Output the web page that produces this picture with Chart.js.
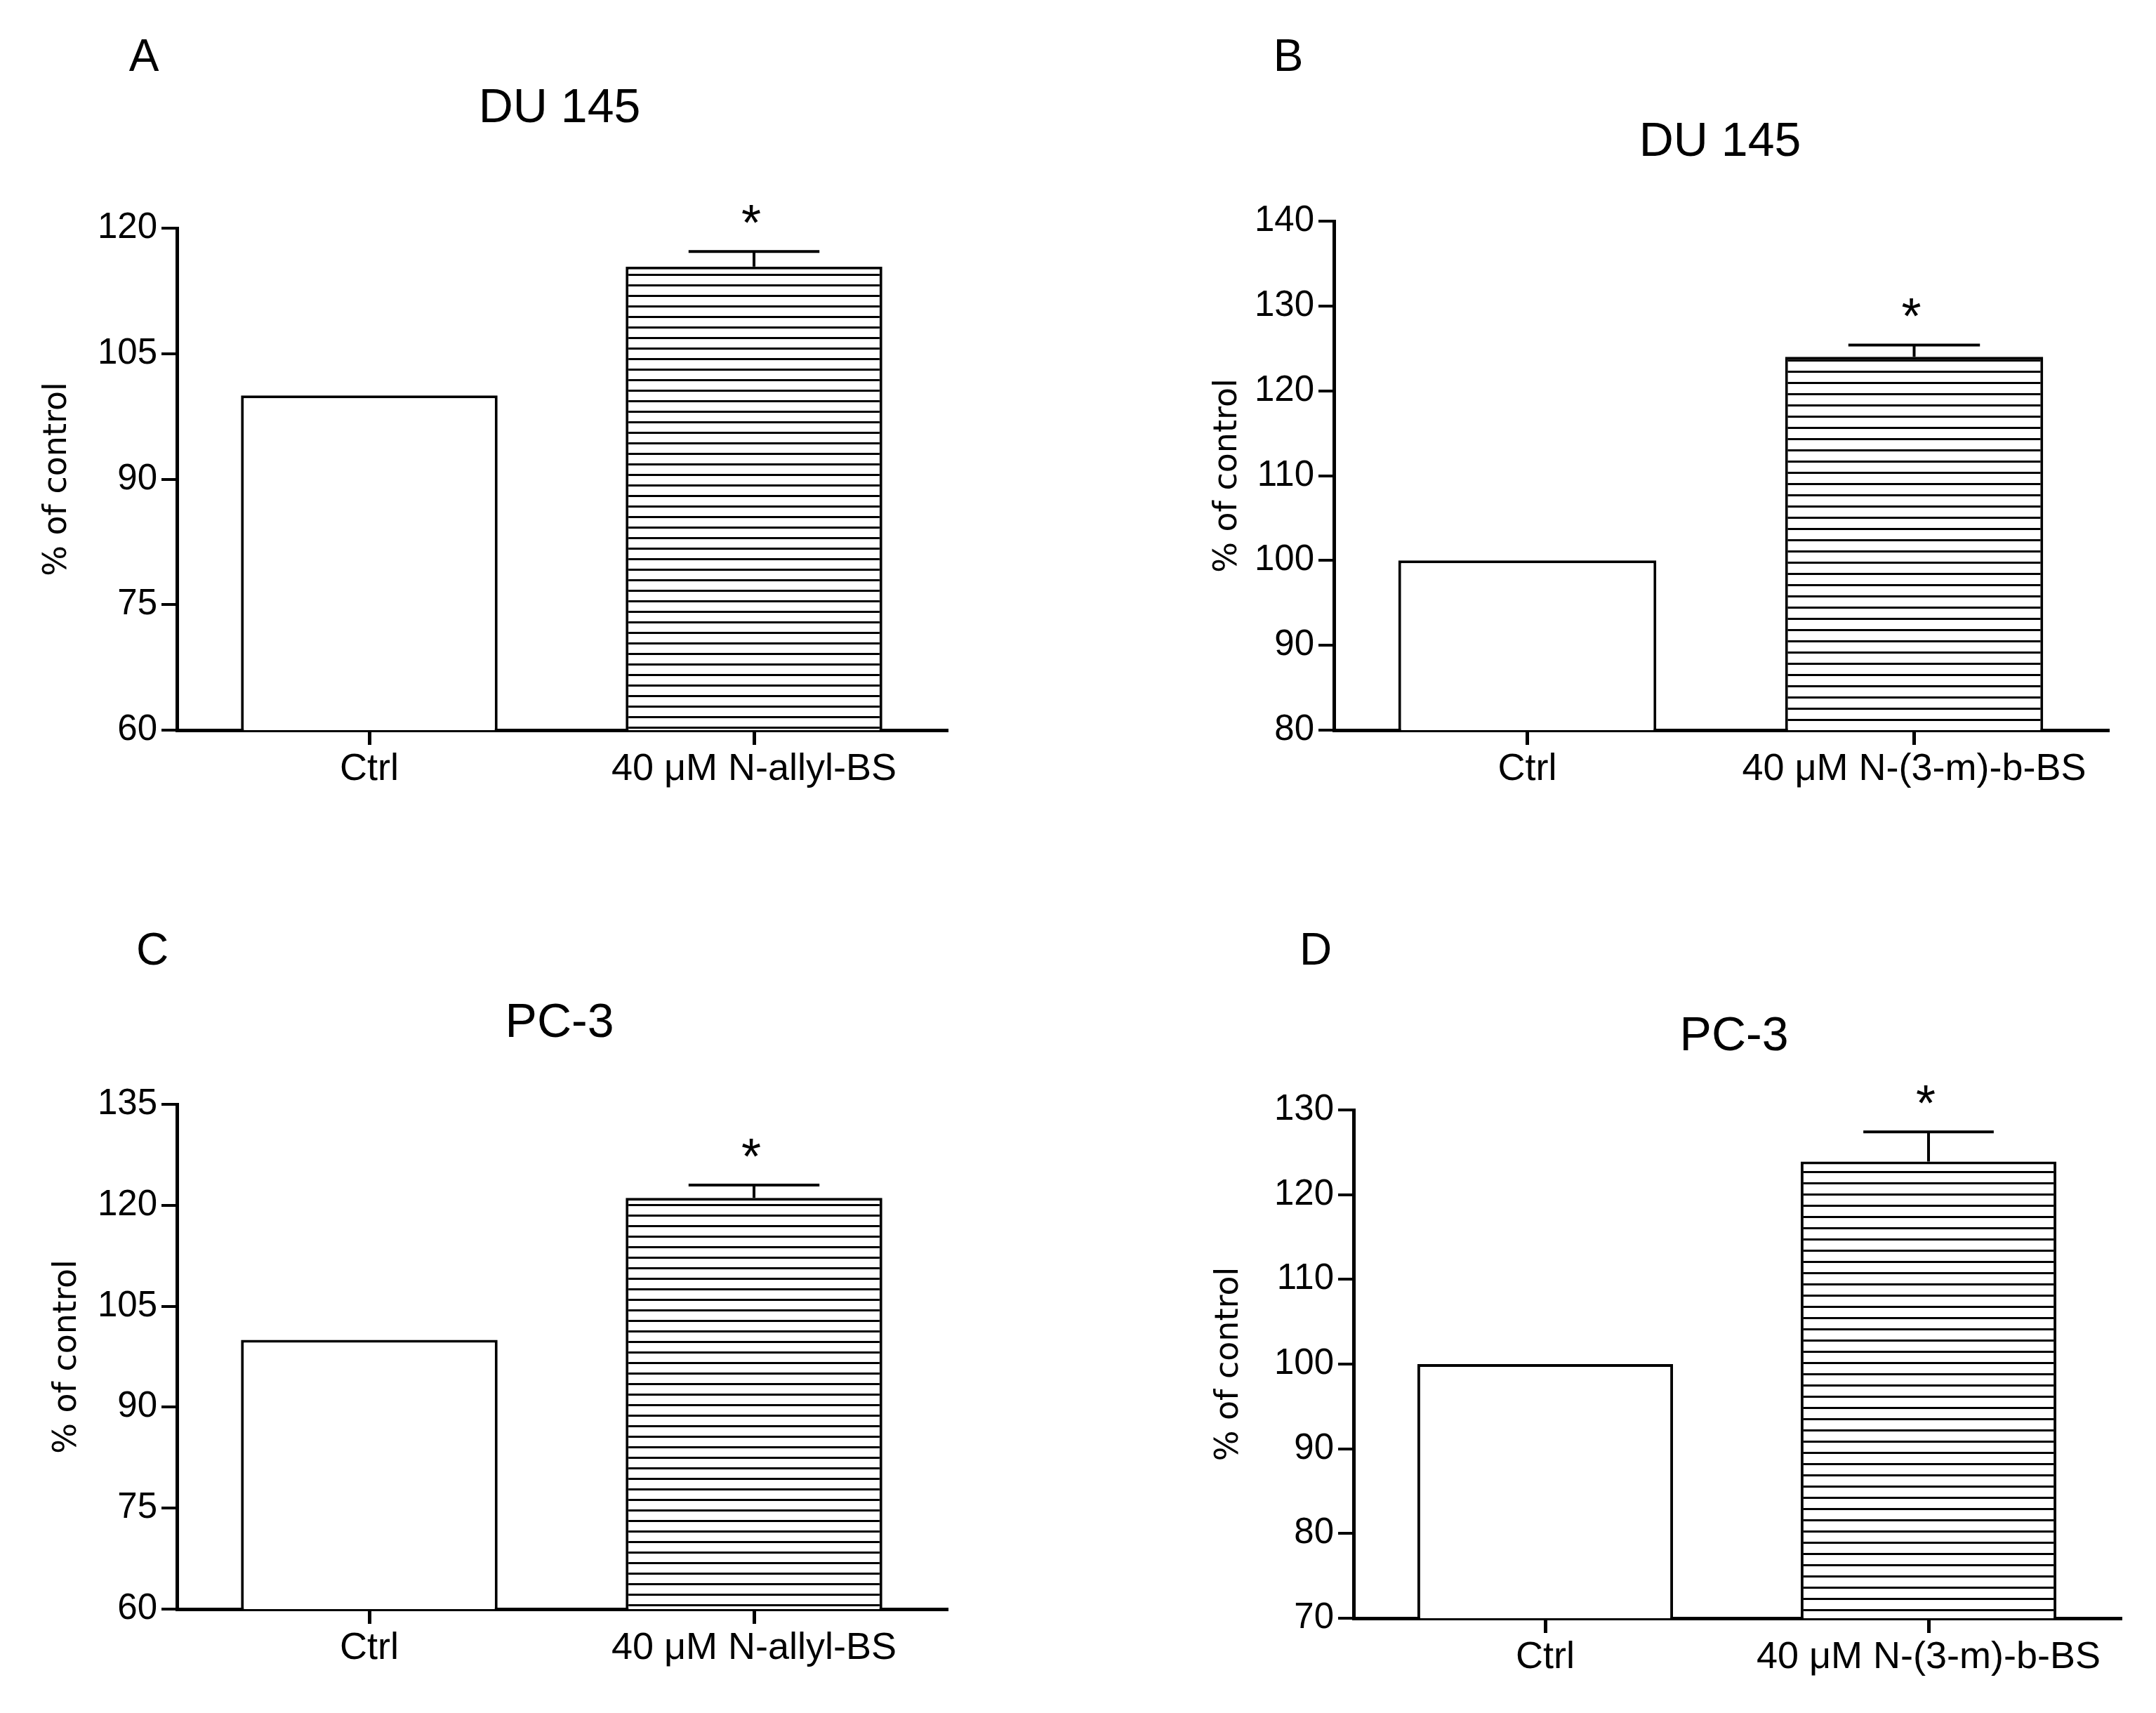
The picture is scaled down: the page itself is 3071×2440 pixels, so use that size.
<!DOCTYPE html>
<html>
<head>
<meta charset="utf-8">
<script src="https://cdn.jsdelivr.net/npm/chart.js@4.4.1/dist/chart.umd.min.js"></script>
<style>
  body { margin: 0; background: #fff; width: 3071px; height: 2440px; position: relative; overflow: hidden; }
  canvas { position: absolute; }
  .txt { position: absolute; font-family: "Liberation Sans", Arial, sans-serif; color: #000; line-height: 1; white-space: nowrap; transform: translate(-50%, -50%); }
</style>
</head>
<body>
<canvas id="chartA" width="1500" height="1220" style="left:0;top:0"></canvas>
<canvas id="chartB" width="1535" height="1220" style="left:1536px;top:0"></canvas>
<canvas id="chartC" width="1500" height="1220" style="left:0;top:1220px"></canvas>
<canvas id="chartD" width="1535" height="1220" style="left:1536px;top:1220px"></canvas>

<div class="txt" style="left:205px;top:79px;font-size:64px">A</div>
<div class="txt" style="left:1835px;top:79px;font-size:64px">B</div>
<div class="txt" style="left:217px;top:1352px;font-size:64px">C</div>
<div class="txt" style="left:1874px;top:1352px;font-size:64px">D</div>
<div class="txt" style="left:797px;top:150px;font-size:68px">DU 145</div>
<div class="txt" style="left:2450px;top:198px;font-size:68px">DU 145</div>
<div class="txt" style="left:797px;top:1453px;font-size:68px">PC-3</div>
<div class="txt" style="left:2470px;top:1472px;font-size:68px">PC-3</div>

<script>
// values (% of control, mean and SEM)
const labelsAllyl = ['Ctrl', '40 \u03bcM N-allyl-BS'];
const labelsMBenzyl = ['Ctrl', '40 \u03bcM N-(3-m)-b-BS'];

const meanA = [100, 115.4];
const semA = [0, 1.8];
const meanB = [100, 124.0];
const semB = [0, 1.4];
const meanC = [100, 121.1];
const semC = [0, 1.9];
const meanD = [100, 123.9];
const semD = [0, 3.5];

const starsA = ['', '*'];
const starsB = ['', '*'];
const starsC = ['', '*'];
const starsD = ['', '*'];

const ticksA = [60, 75, 90, 105, 120];
const ticksB = [80, 90, 100, 110, 120, 130, 140];
const ticksC = [60, 75, 90, 105, 120, 135];
const ticksD = [70, 80, 90, 100, 110, 120, 130];

const tickFont = { family: "'Liberation Sans Narrow', 'Liberation Sans', Arial", size: 51 };
const labelFont = { family: "'Liberation Sans', Arial", size: 54 };
const yTitleFont = { family: "'DejaVu Sans', sans-serif", size: 46 };

Chart.defaults.color = '#000';

function stripes(gap) {
  const c = document.createElement('canvas');
  c.width = 8; c.height = gap;
  const g = c.getContext('2d');
  g.fillStyle = '#fff';
  g.fillRect(0, 0, 8, gap);
  g.fillStyle = '#000';
  g.fillRect(0, 0, 8, 3);
  return g.createPattern(c, 'repeat');
}

// error bar (upper half only) plus significance mark
const errorBars = {
  id: 'errorBars',
  afterDatasetsDraw(chart) {
    const ctx = chart.ctx;
    const y = chart.scales.y;
    const ds = chart.data.datasets[0];
    const meta = chart.getDatasetMeta(0);
    ctx.save();
    ctx.strokeStyle = '#000';
    ctx.lineWidth = 4;
    meta.data.forEach((bar, i) => {
      const err = ds.errors[i];
      let top = bar.y;
      if (err) {
        top = y.getPixelForValue(ds.data[i] + err);
        const half = bar.width * 0.255;
        ctx.beginPath();
        ctx.moveTo(bar.x, bar.y);
        ctx.lineTo(bar.x, top);
        ctx.moveTo(bar.x - half, top);
        ctx.lineTo(bar.x + half, top);
        ctx.stroke();
      }
      if (ds.stars[i]) {
        ctx.fillStyle = '#000';
        ctx.font = "72px 'Liberation Sans', Arial";
        ctx.textAlign = 'center';
        ctx.textBaseline = 'alphabetic';
        ctx.fillText(ds.stars[i], bar.x - 4, top - 16);
      }
    });
    ctx.restore();
  }
};

function makePanel(id, labels, mean, sem, stars, ticks, area, titlePad, gap) {
  const canvas = document.getElementById(id);
  const W = canvas.width, H = canvas.height;
  new Chart(canvas, {
    type: 'bar',
    data: {
      labels: labels,
      datasets: [{
        data: mean,
        errors: sem,
        stars: stars,
        backgroundColor: ['#fff', stripes(gap)],
        borderColor: '#000',
        borderWidth: 4,
        barPercentage: 0.667,
        categoryPercentage: 1.0
      }]
    },
    options: {
      responsive: false,
      animation: false,
      devicePixelRatio: 1,
      layout: {
        padding: { left: 0, top: area.top, right: W - area.right, bottom: 0 }
      },
      plugins: { legend: { display: false }, tooltip: { enabled: false } },
      scales: {
        x: {
          grid: { display: true, offset: false, drawOnChartArea: false, drawTicks: true, tickLength: 21, lineWidth: 5, color: '#000' },
          border: { display: true, width: 5, color: '#000' },
          ticks: { font: labelFont, padding: 3, maxRotation: 0, autoSkip: false },
          afterFit(s) { s.height = H - area.bottom; }
        },
        y: {
          min: ticks[0],
          max: ticks[ticks.length - 1],
          afterBuildTicks(s) { s.ticks = ticks.map(v => ({ value: v })); },
          grid: { display: true, drawOnChartArea: false, drawTicks: true, tickLength: 22, lineWidth: 4, color: '#000' },
          border: { display: true, width: 5, color: '#000' },
          ticks: { font: tickFont, padding: 6 },
          title: { display: true, text: '% of control', font: yTitleFont, padding: { top: titlePad, bottom: 0 } },
          afterFit(s) { s.width = area.left; }
        }
      }
    },
    plugins: [errorBars]
  });
}

makePanel('chartA', labelsAllyl, meanA, semA, starsA, ticksA,
  { left: 252, right: 1348, top: 325, bottom: 1040 }, 54, 15);
makePanel('chartB', labelsMBenzyl, meanB, semB, starsB, ticksB,
  { left: 364, right: 1466, top: 315, bottom: 1040 }, 185, 16);
makePanel('chartC', labelsAllyl, meanC, semC, starsC, ticksC,
  { left: 252, right: 1348, top: 353, bottom: 1072 }, 68, 15);
makePanel('chartD', labelsMBenzyl, meanD, semD, starsD, ticksD,
  { left: 392, right: 1484, top: 361, bottom: 1085 }, 187, 16);
</script>
</body>
</html>
